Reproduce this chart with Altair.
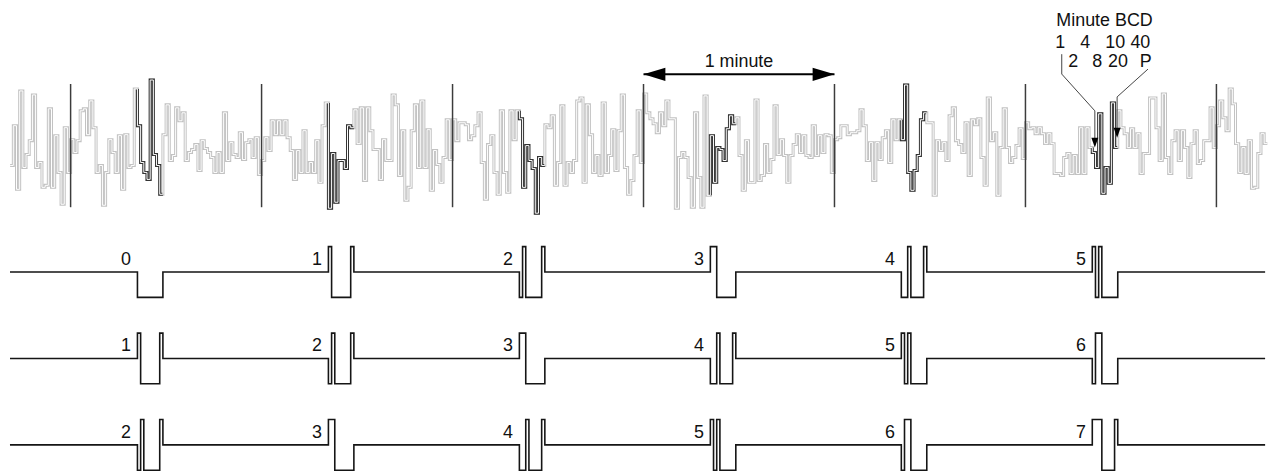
import altair as alt
import pandas as pd

# ---------------- data ----------------
# Received signal, one level per second (arbitrary amplitude units)
wave_pre = [48, 88, 24, 123, 46, 59, 73, 119, 46, 51, 26, 28, 105, 26, 78, 41, 9, 86, 41]
wave_m0 = [74, 61, 73, 103, 105, 79, 113, 86, 41, 48, 8, 41, 74, 61, 41, 78, 24, 79, 46, 48, 125,
           88, 51, 41, 34, 134, 59, 48, 19,
           79, 109, 53, 58, 106, 93, 101, 53, 61, 64, 69, 43,
           73, 65, 61, 56, 41, 61, 41, 101, 53, 71, 59, 56, 81, 54, 71, 74, 56, 76, 39]
wave_m1 = [53, 76, 63, 93, 79, 93, 79, 93, 76, 63, 34, 63, 41, 83, 41, 51, 41, 73, 31, 88, 111,
           5, 60, 11, 53, 53, 45, 88, 86,
           104, 70, 106, 33, 106, 83, 64, 64, 34, 74, 53, 53,
           119, 109, 38, 83, 13, 26, 83, 109, 46, 113, 46, 84, 23, 63, 49, 31, 56, 94, 54]
wave_m2 = [94, 73, 91, 91, 89, 74, 78, 88, 101, 51, 14, 69, 78, 41, 19, 103, 41, 21, 103, 74, 103,
           95, 26, 68, 53, 45, 0, 56, 48,
           89, 86, 98, 28, 51, 108, 28, 51, 41, 53, 113, 116, 31,
           109, 79, 41, 58, 38, 111, 41, 58, 84, 43, 83, 119, 46, 19, 33, 58, 103, 51]
wave_m3 = [120, 101, 95, 90, 81, 101, 88, 113, 95, 95, 5, 56, 61, 56, 36, 6, 101, 36, 6, 118, 18,
           78, 31, 66, 64, 53, 85, 98, 90,
           96, 58, 23, 73, 31, 31, 114, 33, 38, 69, 41, 54, 108, 59, 74,
           58, 31, 58, 69, 79, 61, 78, 58, 56, 88, 58, 78, 61, 79, 78, 41]
wave_m4 = [74, 76, 88, 88, 79, 81, 81, 83, 104, 88, 53, 71, 33, 71, 54, 76, 83, 51, 94, 74, 94,
           74, 129, 41, 23, 43, 58, 94, 101,
           91, 91, 18, 73, 63, 71, 53, 98, 106, 73, 69, 61, 91, 38, 94, 89,
           95, 56, 28, 116, 73, 81, 18, 66, 105, 66, 51, 56, 68, 85, 55]
wave_m5 = [91, 85, 86, 80, 86, 80, 70, 80, 70, 40, 40, 38, 56, 60, 40, 58, 40, 86, 40, 86, 66,
           61, 46, 100, 20, 46, 30, 111, 66,
           103, 86, 80, 66, 85, 66, 80, 40, 60, 60, 116, 116, 86, 53, 120, 56, 40, 73, 83, 53, 83,
           66, 36, 70, 83, 50, 53, 73, 73, 106, 66]
wave_m6 = [88, 113, 96, 83, 125, 110, 70, 41, 66, 40, 73, 25, 26, 60, 80, 70]

minute_marks = [0, 60, 120, 180, 240, 300, 360]          # seconds at which a minute starts
bcd_first_second = 21                                     # minute BCD occupies seconds 21..28
bcd_bits = {0: "00000000", 1: "10000001", 2: "01000001", 3: "11000000",
            4: "00100001", 5: "10100000", 6: "01100000", 7: "11100001"}
row_first_minute = [0, 1, 2]
n_columns = 6
bcd_top_labels = ["1", "4", "10", "40"]
bcd_bottom_labels = ["2", "8", "20", "P"]

# ---------------- build tables ----------------
wave = wave_pre + wave_m0 + wave_m1 + wave_m2 + wave_m3 + wave_m4 + wave_m5 + wave_m6
s0 = -len(wave_pre)
wave_df = pd.DataFrame({
    "s": list(range(s0, s0 + len(wave))) + [s0 + len(wave)],
    "amp": wave + [wave[-1]],
})
wave_df["o"] = range(len(wave_df))

def amp_at(sec):
    return wave[sec - s0]

dark_rows = []
for k in range(n_columns):
    b = 60 * k + bcd_first_second
    pts = [(b, amp_at(b - 1))] + [(b + i, amp_at(b + i)) for i in range(8)] + [(b + 8, amp_at(b + 7))]
    for j, (s, a) in enumerate(pts):
        dark_rows.append({"seg": k, "o": j, "s": s, "amp": a})
dark_df = pd.DataFrame(dark_rows)

pulse_rows = []
label_rows = []
for r, m0 in enumerate(row_first_minute):
    o = 0
    pulse_rows.append({"row": r, "o": o, "s": -19.05, "lvl": 0}); o += 1
    for k in range(n_columns):
        b = 60 * k + bcd_first_second
        for i, bit in enumerate(bcd_bits[m0 + k]):
            pulse_rows.append({"row": r, "o": o, "s": b + i, "lvl": 1 if bit == "1" else -1}); o += 1
        pulse_rows.append({"row": r, "o": o, "s": b + 8, "lvl": 0}); o += 1
        label_rows.append({"row": r, "s": b, "label": str(m0 + k)})
    pulse_rows.append({"row": r, "o": o, "s": 375.3, "lvl": 0})
pulse_df = pd.DataFrame(pulse_rows)
label_df = pd.DataFrame(label_rows)

marks_df = pd.DataFrame({"s": minute_marks})

# annotation positions (seconds / page pixels)
bcd_text_df = pd.DataFrame({
    "s": [310.96, 318.77, 328.2, 336.1, 315.02, 322.51, 329.06, 337.81, 324.85],
    "y": [46.7, 46.7, 46.7, 46.7, 65.7, 65.7, 65.7, 65.7, 25.0],
    "label": bcd_top_labels + bcd_bottom_labels + ["Minute BCD"],
})
leader_df = pd.DataFrame({
    "id": [0, 0, 0, 0, 1, 1, 1],
    "o": [0, 1, 2, 3, 0, 1, 2],
    "s": [311.4, 311.4, 321.8, 321.8, 338.5, 328.8, 328.8],
    "y": [53, 73, 110, 138, 68, 96, 128],
})
leader_tip_df = pd.DataFrame({"s": [321.8, 328.8], "y": [147, 137]})

span_df = pd.DataFrame({"s": [180], "s2": [240], "y": [73.3]})

# ---------------- chart ----------------
FONT = "Liberation Sans"
FS = 18
xs = alt.Scale(domain=[-19.67, 376.52], nice=False, zero=False)
ys = alt.Scale(domain=[8, 474], reverse=True, nice=False, zero=False)
X = lambda f: alt.X(f, scale=xs, axis=None)
Y = lambda f: alt.Y(f, scale=ys, axis=None)

wave_y = "213 - datum.amp"

gray = alt.Chart(wave_df).transform_calculate(y=wave_y).mark_line(
    interpolate="step-after", color="#c2c2c2", strokeWidth=3.0
).encode(x=X("s:Q"), y=Y("y:Q"), order="o:Q")

dark = alt.Chart(dark_df).transform_calculate(y=wave_y).mark_line(
    interpolate="step-after", color="#333333", strokeWidth=3.0
).encode(x=X("s:Q"), y=Y("y:Q"), detail="seg:N", order="o:Q")

core = alt.Chart(wave_df).transform_calculate(y=wave_y).mark_line(
    interpolate="step-after", color="white", strokeWidth=1.0
).encode(x=X("s:Q"), y=Y("y:Q"), order="o:Q")

rules = alt.Chart(marks_df).mark_rule(color="#3c3c3c", strokeWidth=1.5).encode(
    x=X("s:Q"), y=alt.Y(datum=83, scale=ys, axis=None), y2=alt.Y2(datum=207)
)

pulses = alt.Chart(pulse_df).transform_calculate(
    y="272.2 + 87 * datum.row - 25.5 * datum.lvl"
).mark_line(interpolate="step-after", color="#151515", strokeWidth=1.6).encode(
    x=X("s:Q"), y=Y("y:Q"), detail="row:N", order="o:Q"
)

labels = alt.Chart(label_df).transform_calculate(
    y="265.2 + 87 * datum.row"
).mark_text(align="right", baseline="alphabetic", dx=-6.5, fontSize=FS, font=FONT,
            color="#111").encode(x=X("s:Q"), y=Y("y:Q"), text="label:N")

span_line = alt.Chart(span_df).mark_rule(color="black", strokeWidth=2).encode(
    x=X("s:Q"), x2="s2:Q", y=Y("y:Q")
)
head_left = alt.Chart(span_df).mark_point(
    shape="M0,0L2,-0.6L2,0.6Z", size=484, filled=True, color="black", opacity=1, strokeWidth=0
).encode(x=X("s:Q"), y=Y("y:Q"))
head_right = alt.Chart(span_df).mark_point(
    shape="M0,0L-2,-0.6L-2,0.6Z", size=484, filled=True, color="black", opacity=1, strokeWidth=0
).encode(x=X("s2:Q"), y=Y("y:Q"))
span_text = alt.Chart(span_df).transform_calculate(
    mid="(datum.s + datum.s2) / 2"
).mark_text(fontSize=FS, font=FONT, baseline="alphabetic", color="#111", dy=-7).encode(
    x=X("mid:Q"), y=Y("y:Q"), text=alt.value("1 minute")
)

bcd_text = alt.Chart(bcd_text_df).mark_text(
    fontSize=FS, font=FONT, baseline="alphabetic", color="#111"
).encode(x=X("s:Q"), y=Y("y:Q"), text="label:N")

leaders = alt.Chart(leader_df).mark_line(color="#444", strokeWidth=1).encode(
    x=X("s:Q"), y=Y("y:Q"), detail="id:N", order="o:Q"
)
leader_tips = alt.Chart(leader_tip_df).mark_point(
    shape="M0,0L-0.7,-2L0.7,-2Z", size=100, filled=True, color="black", opacity=1, strokeWidth=0
).encode(x=X("s:Q"), y=Y("y:Q"))

chart = alt.layer(
    gray, dark, core, rules, pulses, labels,
    span_line, head_left, head_right, span_text,
    bcd_text, leaders, leader_tips,
).properties(
    width=1269, height=466, padding=0,
    autosize=alt.AutoSizeParams(type="none"),
).configure_view(stroke=None)

chart.save("out.html", embed_options={"renderer": "svg", "actions": False})
